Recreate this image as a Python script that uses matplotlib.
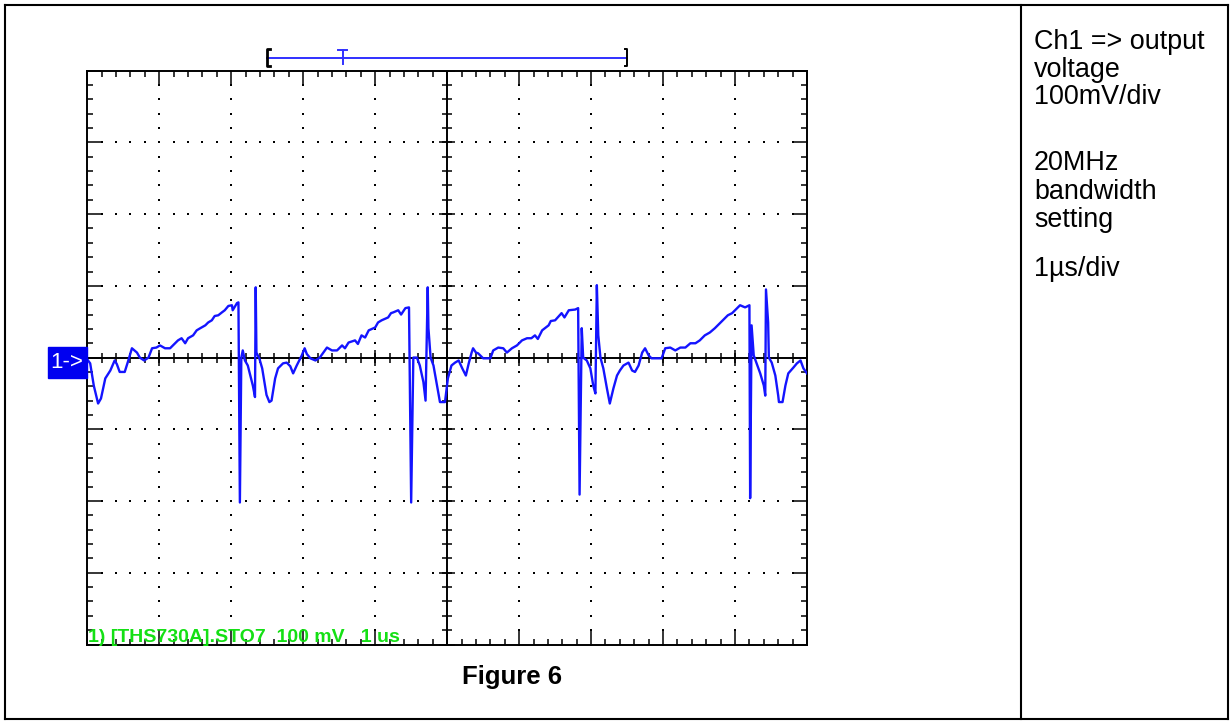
import matplotlib
matplotlib.use('Agg')
import numpy as np
import matplotlib.pyplot as plt
from matplotlib.patches import Rectangle
from matplotlib.lines import Line2D
from matplotlib.ticker import MultipleLocator

plt.rcParams['font.family'] = ['Liberation Sans', 'DejaVu Sans']

# Ch1 trace: time in us, level in mV
time_us = [0.01, 0.04, 0.09, 0.15, 0.19, 0.25, 0.32, 0.38, 0.41, 0.45,
           0.52, 0.57, 0.62, 0.69, 0.73, 0.79, 0.85, 0.90, 0.96, 1.01,
           1.08, 1.15, 1.19, 1.26, 1.31, 1.36, 1.40, 1.47, 1.52, 1.57,
           1.64, 1.68, 1.73, 1.77, 1.82, 1.87, 1.91, 1.96, 2.01, 2.02,
           2.08, 2.10, 2.12, 2.14, 2.16, 2.19, 2.23, 2.30, 2.33, 2.34,
           2.35, 2.39, 2.43, 2.49, 2.53, 2.56, 2.61, 2.65, 2.72, 2.77,
           2.82, 2.86, 2.91, 2.98, 3.02, 3.05, 3.10, 3.17, 3.23, 3.28,
           3.33, 3.40, 3.47, 3.54, 3.58, 3.63, 3.72, 3.76, 3.81, 3.86,
           3.91, 4.00, 4.04, 4.09, 4.18, 4.22, 4.25, 4.32, 4.36, 4.42,
           4.47, 4.50, 4.53, 4.58, 4.62, 4.67, 4.70, 4.73, 4.74, 4.77,
           4.81, 4.86, 4.90, 4.97, 5.01, 5.06, 5.11, 5.16, 5.21, 5.26,
           5.30, 5.34, 5.36, 5.40, 5.43, 5.50, 5.60, 5.64, 5.71, 5.78,
           5.83, 5.90, 5.97, 6.04, 6.11, 6.17, 6.22, 6.26, 6.32, 6.41,
           6.44, 6.50, 6.59, 6.63, 6.69, 6.78, 6.82, 6.84, 6.87, 6.89,
           6.94, 6.99, 7.03, 7.06, 7.08, 7.10, 7.13, 7.17, 7.22, 7.26,
           7.31, 7.36, 7.40, 7.45, 7.52, 7.57, 7.61, 7.66, 7.71, 7.75,
           7.80, 7.84, 7.98, 8.03, 8.10, 8.17, 8.24, 8.31, 8.38, 8.45,
           8.51, 8.58, 8.65, 8.72, 8.79, 8.86, 8.90, 8.96, 9.03, 9.07,
           9.14, 9.20, 9.21, 9.23, 9.26, 9.30, 9.35, 9.40, 9.42, 9.43,
           9.46, 9.47, 9.51, 9.56, 9.60, 9.61, 9.66, 9.70, 9.74, 9.81,
           9.86, 9.91, 9.95, 10.00]
ch1_mv = [-4, -8, -39, -64, -57, -29, -18, -4, -9, -20,
          -20, -4, 13, 7, 0, -4, 0, 13, 14, 17,
          13, 13, 17, 24, 27, 20, 27, 31, 38, 41,
          45, 49, 52, 58, 59, 63, 66, 72, 73, 66,
          76, 77, -202, 0, 10, -4, -11, -39, -55, 98,
          7, -1, -15, -52, -62, -60, -29, -15, -8, -7,
          -12, -22, -11, 3, 13, 5, -1, -4, 0, 7,
          14, 10, 10, 17, 13, 21, 24, 19, 31, 28,
          38, 42, 49, 52, 56, 62, 63, 66, 60, 69,
          70, -202, 0, 0, -11, -34, -60, 98, 41, 0,
          -11, -39, -62, -62, -29, -11, -7, -4, -15, -25,
          -8, 7, 13, 7, 6, -1, -1, 10, 14, 13,
          7, 13, 17, 24, 27, 27, 31, 26, 38, 45,
          51, 52, 62, 56, 66, 67, 69, -191, 41, 0,
          -4, -15, -39, -50, 101, 31, 0, -15, -43, -64,
          -43, -25, -18, -11, -7, -18, -20, -11, 7, 13,
          3, -1, -1, 13, 14, 10, 14, 14, 20, 20,
          24, 31, 35, 41, 48, 55, 59, 62, 69, 73,
          70, 73, -196, 45, 3, -8, -22, -39, -53, 95,
          49, 0, -7, -25, -53, -62, -62, -39, -22, -14,
          -8, -4, -15, -22]

# acquisition window bracket and trigger point (us)
window_us = [2.5, 7.5]
trigger_us = 3.55

scope_label = '1) [THS730A].STO7  100 mV   1 us'
caption = 'Figure 6'
notes = ['Ch1 => output', 'voltage', '100mV/div', '20MHz', 'bandwidth',
         'setting', '1\u00b5s/div']

W, H = 1230, 721


def fx(px):
    return px / W


def fy(py):
    return 1 - py / H


fig = plt.figure(figsize=(W / 100, H / 100), dpi=100)

# page frame
for xs, ys in [([5, 1228], [5, 5]), ([5, 1228], [719, 719]),
               ([5, 5], [5, 719]), ([1228, 1228], [5, 719]),
               ([1021, 1021], [5, 719])]:
    fig.add_artist(Line2D([fx(x) for x in xs], [fy(y) for y in ys],
                          transform=fig.transFigure, color='black', lw=1.5))

ax = fig.add_axes([fx(87.3), fy(644.5), (807 - 87.3) / W, (644.5 - 70.7) / H])
ax.set_xlim(0, 10)
ax.set_ylim(-400, 400)
ax.xaxis.set_major_locator(MultipleLocator(1))
ax.xaxis.set_minor_locator(MultipleLocator(0.2))
ax.yaxis.set_major_locator(MultipleLocator(100))
ax.yaxis.set_minor_locator(MultipleLocator(20))
ax.tick_params(which='both', direction='in', top=True, right=True,
               labelbottom=False, labelleft=False, width=1.1, color='black')
ax.tick_params(which='major', length=10)
ax.tick_params(which='minor', length=4.3)
for s in ax.spines.values():
    s.set_linewidth(1.4)

# dotted graticule
gx = np.arange(0, 10.01, 0.2)
gy = np.arange(-400, 401, 20)
for yv in [-300, -200, -100, 100, 200, 300]:
    ax.scatter(gx, np.full(len(gx), yv), s=1.3, marker='s', color='black',
               linewidths=0, zorder=2)
for xv in [1, 2, 3, 4, 6, 7, 8, 9]:
    ax.scatter(np.full(len(gy), xv), gy, s=1.3, marker='s', color='black',
               linewidths=0, zorder=2)

# centre cross with its own ticks
ax.axhline(0, color='black', lw=1.4, zorder=3)
ax.axvline(5, color='black', lw=1.4, zorder=3)
ax.plot(gx, np.zeros(len(gx)), ls='none', marker='|', ms=6.5, mew=1.1,
        color='black', zorder=3)
ax.plot(np.arange(0, 11), np.zeros(11), ls='none', marker='|', ms=11.5,
        mew=1.1, color='black', zorder=3)
ax.plot(np.full(len(gy), 5), gy, ls='none', marker='_', ms=6.5, mew=1.1,
        color='black', zorder=3)
ax.plot(np.full(9, 5), np.arange(-400, 401, 100), ls='none', marker='_',
        ms=11.5, mew=1.1, color='black', zorder=3)

# trace
ax.plot(time_us, ch1_mv, color='#1414ff', lw=1.7, zorder=5)

# window bracket above the screen
ax.plot(window_us, [418, 418], color='#3030ff', lw=1.4, clip_on=False)
ax.plot([window_us[0] + 0.035, window_us[0], window_us[0], window_us[0] + 0.035],
        [430, 430, 407, 407], color='black', lw=2.0, clip_on=False)
ax.plot([window_us[1] - 0.035, window_us[1], window_us[1], window_us[1] - 0.035],
        [430, 430, 407, 407], color='black', lw=1.4, clip_on=False)
ax.plot([trigger_us, trigger_us], [409, 429], color='#3030ff', lw=1.4,
        clip_on=False)
ax.plot([trigger_us - 0.06, trigger_us + 0.06], [429, 429], color='#3030ff',
        lw=1.4, clip_on=False)

# channel marker
fig.add_artist(Rectangle((fx(48), fy(378)), 39 / W, 31 / H,
                         transform=fig.transFigure, color='#0000f0'))
fig.text(fx(67), fy(362), '1->', color='white', fontsize=16,
         ha='center', va='center')

fig.text(fx(88), fy(642), scope_label, color='#14e014', fontsize=14,
         fontweight='bold', va='baseline')

fig.text(fx(512), fy(684), caption, fontsize=18.5, fontweight='bold',
         ha='center', va='baseline')

note_rows = [49, 77, 104, 170, 199, 227, 276]
for txt, row in zip(notes, note_rows):
    fig.text(fx(1034), fy(row), txt, fontsize=19.4, va='baseline')

fig.savefig('out.png', dpi=100)
